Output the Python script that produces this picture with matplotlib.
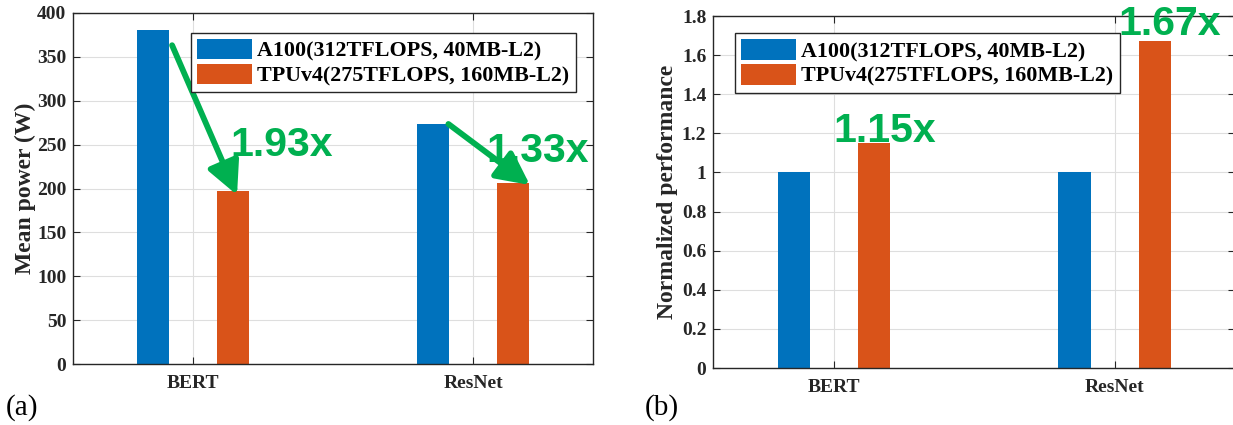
import matplotlib
matplotlib.use('Agg')
import matplotlib.pyplot as plt
import numpy as np
from matplotlib.patches import FancyArrowPatch

# Datos
categories = ['BERT', 'ResNet']
series_names = ['A100(312TFLOPS, 40MB-L2)', 'TPUv4(275TFLOPS, 160MB-L2)']
power_a100 = [380, 273]
power_tpu = [197, 206]
perf_a100 = [1.0, 1.0]
perf_tpu = [1.15, 1.67]
power_ticks = [0, 50, 100, 150, 200, 250, 300, 350, 400]
perf_ticks = [0, 0.2, 0.4, 0.6, 0.8, 1.0, 1.2, 1.4, 1.6, 1.8]
perf_tick_labels = ['0', '0.2', '0.4', '0.6', '0.8', '1', '1.2', '1.4', '1.6', '1.8']

blue = '#0072BD'
orange = '#D95319'
green = '#00B050'
dark = '#262626'
serif = 'Liberation Serif'
sans = 'Liberation Sans'

fig = plt.figure(figsize=(12.33, 4.25), dpi=100)
ax1 = fig.add_axes([0.0595, 0.1428, 0.4217, 0.8273])
ax2 = fig.add_axes([0.5785, 0.1341, 0.4232, 0.8282])

x = np.arange(1, len(categories) + 1)
offset = 0.143
width = 0.114


def style_axes(ax, yticks, ylabels, ymax, ylabel, labelpad):
    ax.set_axisbelow(True)
    ax.set_xlim(4 / 7, 2 + 3 / 7)
    ax.set_ylim(0, ymax)
    ax.set_xticks(x)
    ax.set_xticklabels(categories, fontfamily=serif, fontweight='bold', fontsize=14, color=dark)
    ax.set_yticks(yticks)
    ax.set_yticklabels(ylabels, fontfamily=serif, fontweight='bold', fontsize=14, color=dark)
    ax.tick_params(direction='in', length=5, width=0.8, color=dark, top=True, right=True, pad=5)
    ax.tick_params(axis='x', pad=8)
    ax.grid(True, color='#dedede', linewidth=0.8)
    for s in ax.spines.values():
        s.set_color(dark)
        s.set_linewidth(1.0)
    ax.set_ylabel(ylabel, fontfamily=serif, fontweight='bold', fontsize=17, color=dark,
                  labelpad=labelpad)


# (a) potencia media
ax1.bar(x - offset, power_a100, width, color=blue, label=series_names[0])
ax1.bar(x + offset, power_tpu, width, color=orange, label=series_names[1])
style_axes(ax1, power_ticks, [str(t) for t in power_ticks], 400, 'Mean power (W)', 1)

# (b) rendimiento normalizado
ax2.bar(x - offset, perf_a100, width, color=blue, label=series_names[0])
ax2.bar(x + offset, perf_tpu, width, color=orange, label=series_names[1])
style_axes(ax2, perf_ticks, perf_tick_labels, 1.8, 'Normalized performance', 3)

for ax, anchor in [(ax1, (0.2258, 0.9437)), (ax2, (0.0416, 0.9509))]:
    leg = ax.legend(loc='upper left', bbox_to_anchor=anchor, borderaxespad=0,
                    prop={'family': serif, 'weight': 'bold', 'size': 15.8},
                    handlelength=2.5, handleheight=1.05, handletextpad=0.25,
                    borderpad=0.28, labelspacing=0.1, fancybox=False, framealpha=1)
    leg.get_frame().set_edgecolor(dark)
    leg.get_frame().set_linewidth(1.0)

# Flechas y factores
arrows = [((0.924, 363), (1.156, 192.6)), ((1.911, 273.4), (2.202, 204))]
for tail, tip in arrows:
    ax1.add_patch(FancyArrowPatch(tail, tip, arrowstyle='-|>,head_length=1.0,head_width=0.5',
                                  mutation_scale=20, lw=4.2, color=green,
                                  shrinkA=0, shrinkB=0, zorder=5))

ratio_power = [a / t for a, t in zip(power_a100, power_tpu)]
ratio_perf = [t / a for a, t in zip(perf_a100, perf_tpu)]
ax1.text(1.131, 237, f'{ratio_power[0]:.2f}x', fontfamily=sans, fontweight='bold',
         fontsize=29.5, color=green, ha='left', va='baseline', zorder=6)
ax1.text(2.045, 230, f'{ratio_power[1]:.2f}x', fontfamily=sans, fontweight='bold',
         fontsize=29.5, color=green, ha='left', va='baseline', zorder=6)
ax2.text(1.183, 1.155, f'{ratio_perf[0]:.2f}x', fontfamily=sans, fontweight='bold',
         fontsize=29.5, color=green, ha='center', va='baseline', zorder=6)
ax2.text(2.197, 1.703, f'{ratio_perf[1]:.2f}x', fontfamily=sans, fontweight='bold',
         fontsize=29.5, color=green, ha='center', va='baseline', zorder=6)

# Etiquetas de subfigura
fig.text(6 / 1233, 1 - 408 / 425, '(a)', fontfamily=serif, fontsize=21, color='black',
         ha='left', va='center')
fig.text(645 / 1233, 1 - 408 / 425, '(b)', fontfamily=serif, fontsize=21, color='black',
         ha='left', va='center')

fig.savefig('out.png', dpi=100)
